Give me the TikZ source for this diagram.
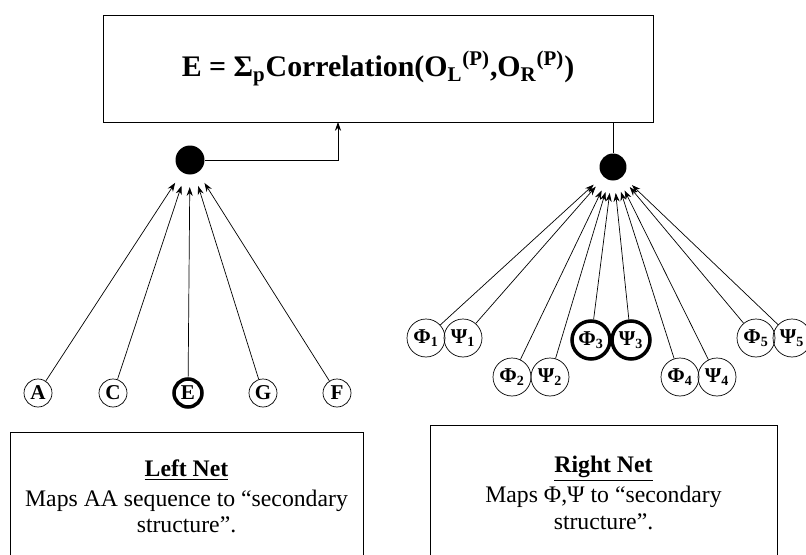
\documentclass[tikz,border=0pt]{standalone}
\usepackage{fontspec}
\setmainfont{Liberation Serif}
\usetikzlibrary{arrows.meta}
\begin{document}
\begin{tikzpicture}[>={Stealth[length=5pt,width=3.5pt]}, x=0.02cm, y=-0.02cm,
  inp/.style={draw, circle, minimum size=0.56cm, inner sep=0pt, font=\bfseries\large},
  ang/.style={draw, circle, minimum size=0.76cm, inner sep=0pt, font=\bfseries\large},
  hub/.style={fill, circle, inner sep=0pt},
  netbox/.style={draw, thin, anchor=north, align=center, font=\fontsize{13.5}{15}\selectfont}]
\useasboundingbox (0,0) rectangle (806,555);
% energy box
\node[draw, thin, minimum width=11cm, minimum height=2.14cm, font=\fontsize{17}{20}\selectfont\bfseries] (top) at (378,68.5)
  {E = Σ\textsubscript{p}Correlation(O\textsubscript{L}\textsuperscript{(P)},O\textsubscript{R}\textsuperscript{(P)})};
\node[hub, minimum size=0.58cm] (lhub) at (190,160) {};
\node[hub, minimum size=0.54cm] (rhub) at (613,167) {};
\coordinate (lj) at (338,122);
\draw[->] (lhub.east) -| (lj);
\draw (rhub) -- (rhub |- top.south);
% left net inputs
\node[inp] (a) at (38,393) {A};
\node[inp] (c) at (113,393) {C};
\node[inp, line width=2pt] (e) at (188,393) {E};
\node[inp] (g) at (263,393) {G};
\node[inp] (f) at (337,393) {F};
\foreach \n in {a,c,e,g,f}
  \draw[->, thin, shorten >=7pt] (\n) -- (lhub);
% right net inputs
\node[ang] (p1) at (426,338) {Φ\textsubscript{1}};
\node[ang] (s1) at (463,338) {Ψ\textsubscript{1}};
\node[ang] (p2) at (512,377) {Φ\textsubscript{2}};
\node[ang] (s2) at (550,377) {Ψ\textsubscript{2}};
\node[ang, line width=2pt] (p3) at (591,340) {Φ\textsubscript{3}};
\node[ang, line width=2pt] (s3) at (631,340) {Ψ\textsubscript{3}};
\node[ang] (p4) at (680,377) {Φ\textsubscript{4}};
\node[ang] (s4) at (717,377) {Ψ\textsubscript{4}};
\node[ang] (p5) at (756,338) {Φ\textsubscript{5}};
\node[ang] (s5) at (792,338) {Ψ\textsubscript{5}};
\foreach \n in {p1,s1,p2,s2,p3,s3,p4,s4,p5,s5}
  \draw[->, shorten >=7pt] (\n) -- (rhub);
% description boxes
\node[netbox, minimum width=7.06cm, minimum height=2.56cm] (ln) at (186.5,432)
  {\underline{\textbf{Left Net}}\\[2pt]Maps AA sequence to ``secondary\\structure''.};
\node[netbox, minimum width=6.94cm, minimum height=2.7cm] (rn) at (603.5,425)
  {\underline{\textbf{Right Net}}\\[2pt]Maps Φ,Ψ to ``secondary\\structure''.};
\end{tikzpicture}
\end{document}
